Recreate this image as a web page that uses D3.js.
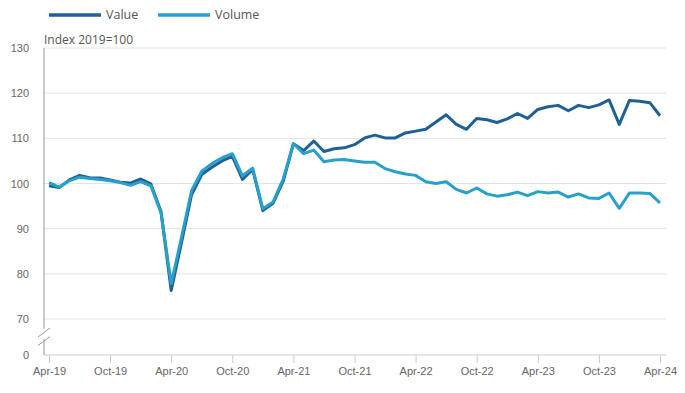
<!DOCTYPE html>
<html>
<head>
<meta charset="utf-8">
<script src="https://cdn.jsdelivr.net/npm/d3@7"></script>
<style>
  body { margin: 0; background: #fff; }
  svg { display: block; font-family: 'Open Sans', sans-serif; }
  .grid line { stroke: #e3e3e3; stroke-width: 1px; }
  .tick-label { fill: #666; font-size: 11px; }
  .legend-label { fill: #555; font-size: 12.5px; }
</style>
</head>
<body>
<svg id="chart" width="685" height="393"></svg>
<script>
// monthly, Apr-19 .. Apr-24
const months = d3.range(61);
const valueSeries = [
  99.5, 99.1, 100.8, 101.8, 101.3, 101.2, 100.8, 100.3, 100.1, 101.0, 99.9, 93.8,
  76.3, 86.8, 97.5, 102.0, 103.6, 105.0, 106.0, 100.9, 103.1, 94.0, 95.6, 100.5,
  108.8, 107.3, 109.4, 107.1, 107.7, 107.9, 108.6, 110.1, 110.7, 110.1, 110.1, 111.2,
  111.6, 112.0, 113.6, 115.2, 113.1, 112.0, 114.4, 114.1, 113.5, 114.3, 115.5, 114.4,
  116.4, 117.0, 117.3, 116.1, 117.3, 116.8, 117.4, 118.5, 113.1, 118.4, 118.2, 117.9,
  115.0
];
const volumeSeries = [
  100.2, 99.2, 100.6, 101.4, 101.1, 100.9, 100.6, 100.2, 99.6, 100.4, 99.5, 93.5,
  77.8, 88.0, 98.4, 102.7, 104.4, 105.7, 106.6, 101.7, 103.4, 94.4, 95.9, 101.0,
  108.8, 106.6, 107.4, 104.8, 105.2, 105.3, 105.0, 104.7, 104.7, 103.3, 102.6, 102.1,
  101.8, 100.4, 100.0, 100.4, 98.7, 97.9, 99.0, 97.7, 97.2, 97.5, 98.1, 97.3,
  98.2, 97.9, 98.1, 97.0, 97.7, 96.8, 96.7, 97.9, 94.5, 97.9, 97.9, 97.8,
  95.7
];
const xTickIndex = [0, 6, 12, 18, 24, 30, 36, 42, 48, 54, 60];
const xTickLabels = ['Apr-19', 'Oct-19', 'Apr-20', 'Oct-20', 'Apr-21', 'Oct-21',
  'Apr-22', 'Oct-22', 'Apr-23', 'Oct-23', 'Apr-24'];
const yTicks = [0, 70, 80, 90, 100, 110, 120, 130];

const series = [
  { name: 'Value', values: valueSeries, color: '#206095' },
  { name: 'Volume', values: volumeSeries, color: '#27a0cc' }
];

const svg = d3.select('#chart');
const left = 44, right = 666;

const x = d3.scaleLinear().domain([0, 60]).range([49, 660]);
// broken axis: 0 sits below a gap, 70..130 is the real range
const y = d3.scaleLinear().domain([0, 70, 130]).range([355, 319, 48]);

// gridlines
svg.append('g')
    .attr('class', 'grid')
    .selectAll('line')
    .data(yTicks.filter(d => d >= 70))
    .enter().append('line')
    .attr('x1', left)
    .attr('x2', right)
    .attr('y1', d => y(d))
    .attr('y2', d => y(d));

// y axis
const yAxis = svg.append('g')
    .attr('transform', `translate(${left},0)`)
    .call(d3.axisLeft(y).tickValues(yTicks).tickSize(0).tickPadding(15));
yAxis.select('.domain').remove();
yAxis.selectAll('text').attr('class', 'tick-label').attr('fill', null).style('font-size', '11px');

// vertical axis line with break
svg.append('line')
    .attr('x1', left).attr('x2', left)
    .attr('y1', y(130)).attr('y2', 329)
    .attr('stroke', '#999').attr('stroke-width', 1);
svg.append('line')
    .attr('x1', left).attr('x2', left)
    .attr('y1', 339).attr('y2', y(0))
    .attr('stroke', '#999').attr('stroke-width', 1);
[0, 8.5].forEach(off => {
    svg.append('line')
        .attr('x1', 38).attr('y1', 337 + off)
        .attr('x2', 50).attr('y2', 328 + off)
        .attr('stroke', '#999').attr('stroke-width', 1);
});

// x axis
const xAxis = svg.append('g')
    .attr('transform', `translate(0,${y(0)})`)
    .call(d3.axisBottom(x).tickValues(xTickIndex)
        .tickFormat((d, i) => xTickLabels[i]).tickSize(8).tickPadding(4));
xAxis.select('.domain').attr('d', `M${left},0H${right}`).attr('stroke', '#c9ccd3');
xAxis.selectAll('.tick line').attr('stroke', '#c9ccd3');
xAxis.selectAll('text').attr('class', 'tick-label').attr('fill', null).style('font-size', '11px');

// axis title
svg.append('text')
    .attr('x', left)
    .attr('y', 44)
    .attr('fill', '#555')
    .style('font-size', '12px')
    .text('Index 2019=100');

// lines
const line = d3.line()
    .x((d, i) => x(months[i]))
    .y(d => y(d));

svg.append('g')
    .selectAll('path')
    .data(series)
    .enter().append('path')
    .attr('d', d => line(d.values))
    .attr('fill', 'none')
    .attr('stroke', d => d.color)
    .attr('stroke-width', 3)
    .attr('stroke-linejoin', 'round');

// legend
const legendX = [49, 158];
const legend = svg.append('g')
    .selectAll('g')
    .data(series)
    .enter().append('g')
    .attr('transform', (d, i) => `translate(${legendX[i]},15)`);
legend.append('line')
    .attr('x1', 0).attr('x2', 52)
    .attr('stroke', d => d.color)
    .attr('stroke-width', 3.5);
legend.append('text')
    .attr('class', 'legend-label')
    .attr('x', 57)
    .attr('dy', '0.35em')
    .text(d => d.name);
</script>
</body>
</html>
